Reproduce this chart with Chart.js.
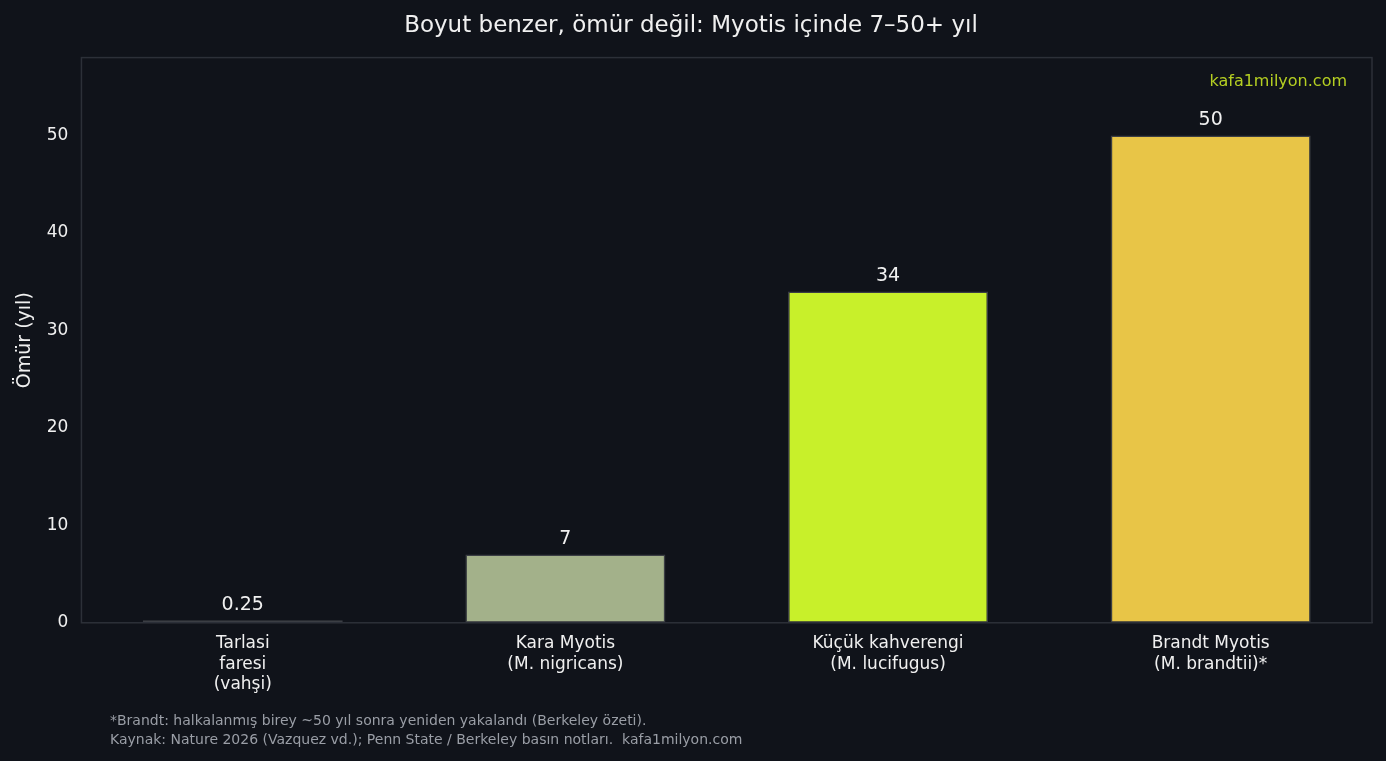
<!DOCTYPE html>
<html><head><meta charset="utf-8">
<script src="https://cdn.jsdelivr.net/npm/chart.js@4.4.1/dist/chart.umd.min.js"></script>
<style>html,body{margin:0;background:#10131a;}#wrap{width:1386px;height:761px;}</style>
</head><body><div id="wrap"><canvas id="c"></canvas></div>
<script>
const categories = [['Tarlasi', 'faresi', '(vahşi)'], ['Kara Myotis', '(M. nigricans)'], ['Küçük kahverengi', '(M. lucifugus)'], ['Brandt Myotis', '(M. brandtii)*']];
const lifespans = [0.25, 7, 34, 50];
const valueLabels = ['0.25', '7', '34', '50'];
const barColors = ['#3a3d42', '#a3b18a', '#c8f02a', '#e8c547'];
const yTicks = [0, 10, 20, 30, 40, 50];

const F = 'DejaVu Sans';
const extras = {
  id: 'extras',
  afterDatasetsDraw(chart) {
    const ctx = chart.ctx, a = chart.chartArea, y = chart.scales.y;
    ctx.save();
    ctx.font = '19px ' + F; ctx.fillStyle = '#f0f0f0'; ctx.textAlign = 'center'; ctx.textBaseline = 'bottom';
    chart.getDatasetMeta(0).data.forEach((b, i) => ctx.fillText(valueLabels[i], b.x, y.getPixelForValue(lifespans[i]) - 6));
    ctx.strokeStyle = '#2c3038'; ctx.lineWidth = 1.5;
    ctx.strokeRect(a.left, a.top, a.right - a.left, a.bottom - a.top);
    ctx.font = '16px ' + F; ctx.fillStyle = '#b5cf22'; ctx.textAlign = 'right'; ctx.textBaseline = 'middle';
    ctx.fillText('kafa1milyon.com', a.right - 25, 82);
    ctx.font = '14px ' + F; ctx.fillStyle = '#9a9ea6'; ctx.textAlign = 'left';
    ctx.fillText('*Brandt: halkalanmış birey ~50 yıl sonra yeniden yakalandı (Berkeley özeti).', 110, 721);
    ctx.fillText('Kaynak: Nature 2026 (Vazquez vd.); Penn State / Berkeley basın notları.  kafa1milyon.com', 110, 740);
    ctx.restore();
  }
};

new Chart(document.getElementById('c'), {
  type: 'bar',
  data: { labels: categories, datasets: [{ data: lifespans, backgroundColor: barColors, borderColor: '#3b3e44', borderWidth: 1.5, borderSkipped: false, barPercentage: 0.62, categoryPercentage: 1 }] },
  options: {
    responsive: true, maintainAspectRatio: false, animation: false,
    layout: { padding: { left: 10, right: 14, top: 6, bottom: 62 } },
    plugins: {
      legend: { display: false }, tooltip: { enabled: false },
      title: { display: true, text: 'Boyut benzer, ömür değil: Myotis içinde 7–50+ yıl', color: '#f0f0f0', font: { family: F, size: 23, weight: 'normal' }, padding: { top: 6, bottom: 18 } }
    },
    scales: {
      x: { grid: { display: false, drawTicks: true, tickLength: 7, color: '#cccccc' }, border: { color: '#2c3038' }, ticks: { color: '#f0f0f0', font: { family: F, size: 17 }, padding: 4 } },
      y: { min: 0, max: 58, afterBuildTicks: s => { s.ticks = yTicks.map(v => ({ value: v })); },
        grid: { display: false, drawTicks: true, tickLength: 7 }, border: { color: '#2c3038' },
        ticks: { color: '#f0f0f0', font: { family: F, size: 17 }, padding: 6 },
        title: { display: true, text: 'Ömür (yıl)', color: '#f0f0f0', font: { family: F, size: 19 } } }
    }
  },
  plugins: [extras]
});
</script></body></html>
